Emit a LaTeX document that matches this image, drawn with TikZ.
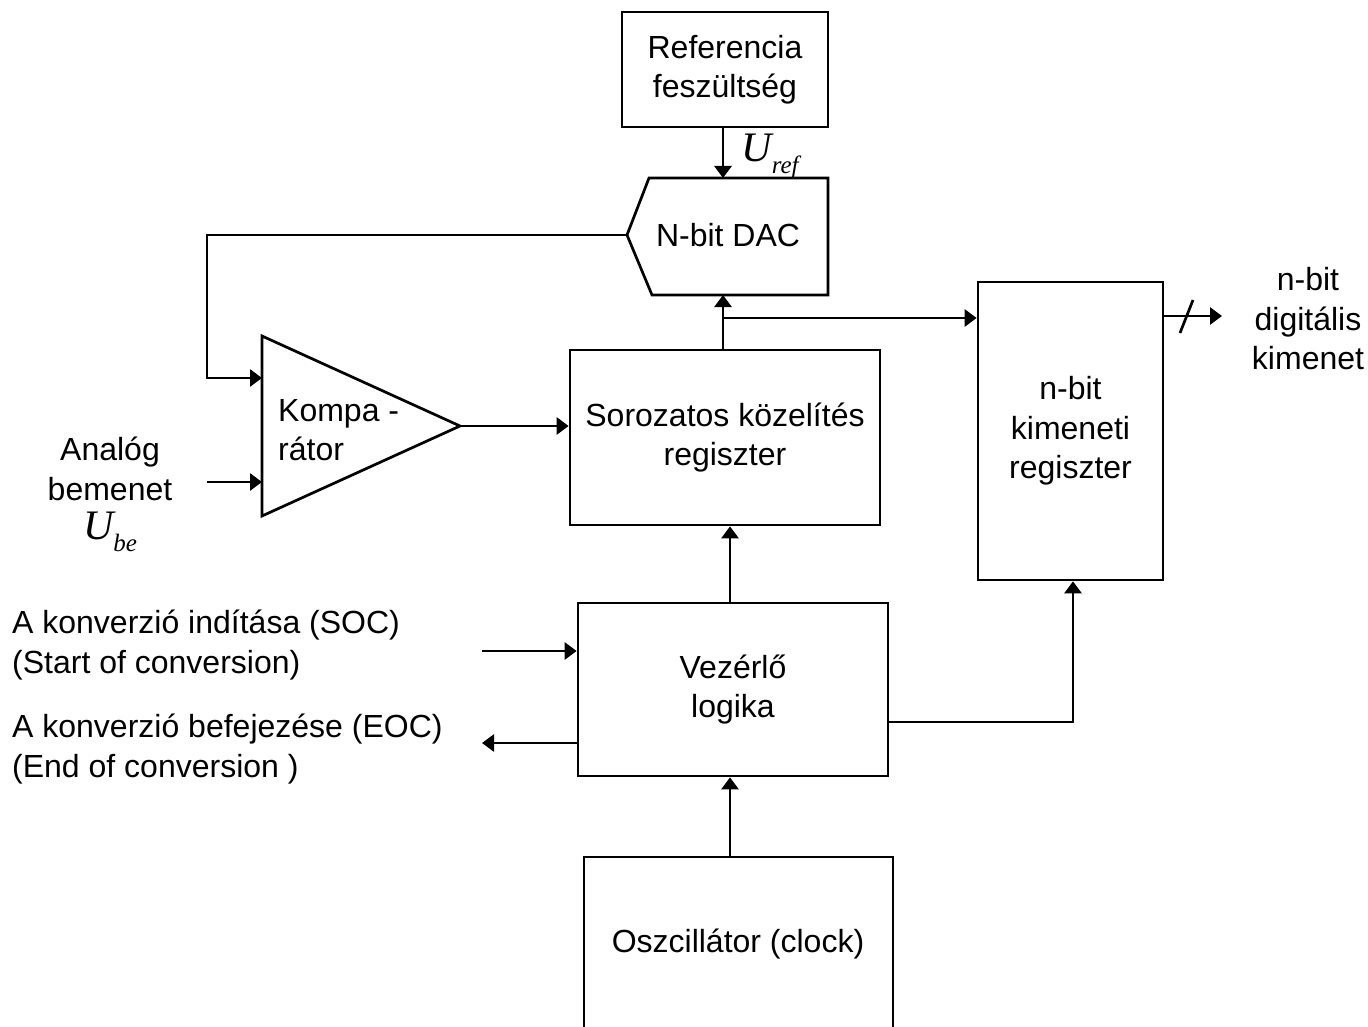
\documentclass[tikz,border=0pt]{standalone}
\usepackage{fontspec}
\setmainfont{Liberation Sans}
\newfontfamily\symserif{Liberation Serif}
\usetikzlibrary{arrows.meta,calc}
\tikzset{
  wire/.style={line width=2.7pt},
  arr/.style={wire,-{Triangle[length=12pt,width=17pt]}},
  blk/.style={draw,line width=2.7pt,rectangle,align=center,inner sep=0pt},
  lbl/.style={align=center,inner sep=0pt},
  lft/.style={align=left,inner sep=0pt,anchor=west},
}
\newcommand{\txt}{\fontsize{32}{39.5}\selectfont}
\newcommand{\sym}[2]{{\symserif\itshape\fontsize{42}{42}\selectfont #1\raisebox{-12pt}{\fontsize{25}{25}\selectfont #2}}}
\begin{document}
\begin{tikzpicture}[x=1pt,y=-1pt,font=\txt]
\useasboundingbox (0,0) rectangle (1368,1027);
\clip (0,0) rectangle (1368,1027);

% reference voltage
\node[blk,minimum width=206,minimum height=115] (ref) at (725,69.5) {Referencia\\feszültség};

% DAC outline (notched on the left)
\coordinate (dactl) at (649,178);
\coordinate (dacin) at (627,235);
\draw[wire,line join=miter] (dactl) -- (828,178) -- (828,295) -- (652,295) -- (dacin) -- cycle;
\node[lbl] (dac) at (728,235) {N-bit DAC};
\coordinate (dactop) at (723,178);
\coordinate (dacbot) at (723,295);

% comparator triangle
\coordinate (kin1) at (262,378);
\coordinate (kin2) at (262,482);
\coordinate (kout) at (460,426);
\draw[wire,line join=miter] (262,336) -- (kout) -- (262,516) -- cycle;
\node[lft] (komp) at (278,430) {Kompa -\\rátor};

% blocks
\node[blk,minimum width=310,minimum height=175] (sar) at (725,437.5) {Sorozatos közelítés\\regiszter};
\node[blk,minimum width=185,minimum height=298] (oreg) at (1070.5,431) {n-bit\\kimeneti\\regiszter};
\node[blk,minimum width=310,minimum height=173] (ctl) at (733,689.5) {Vezérlő\\logika};
% the clock block runs on past the lower edge
\node[blk,minimum width=309,minimum height=200] (osc) at (738.5,957) {};
\node[lbl] (osctxt) at (738,944) {Oszcillátor (clock)};

% labels
\node[lbl] (uref) at (770,156) {\sym{U}{ref}};
\node[lbl] (ain) at (110,469) {Analóg\\bemenet};
\node[lbl] (ube) at (110,532) {\sym{U}{be}};
\node[lbl] (dout) at (1308,319) {n-bit\\digitális\\kimenet};
\node[lft] (soc) at (12,645) {A konverzió indítása (SOC)\\(Start of conversion)};
\node[lft] (eoc) at (12,749) {A konverzió befejezése (EOC)\\(End of conversion )};

% connections
\draw[arr] (ref.south -| dactop) -- (dactop);
\draw[arr] (dacin) -- (207,235) |- (kin1);
\draw[arr] (207,482) -- (kin2);
\draw[arr] (kout) -- (kout -| sar.west);
\draw[arr] (sar.north -| dacbot) -- (dacbot);
\coordinate (br) at (723,318);
\draw[arr] (br) -- (br -| oreg.west);
\draw[arr] (ctl.north -| 730,0) -- (sar.south -| 730,0);
\draw[arr] (osc.north -| 730,0) -- (ctl.south -| 730,0);
\draw[arr] (ctl.east |- 0,722) -| (oreg.south -| 1073,0);
\coordinate (socin) at (482,651);
\draw[arr] (socin) -- (socin -| ctl.west);
\coordinate (eocout) at (482,743);
\draw[arr] (eocout -| ctl.west) -- (eocout);
\coordinate (dend) at (1222,316);
\draw[arr] (dend -| oreg.east) -- (dend);
\draw[wire] (1180,333) -- (1193,300);
\end{tikzpicture}
\end{document}
